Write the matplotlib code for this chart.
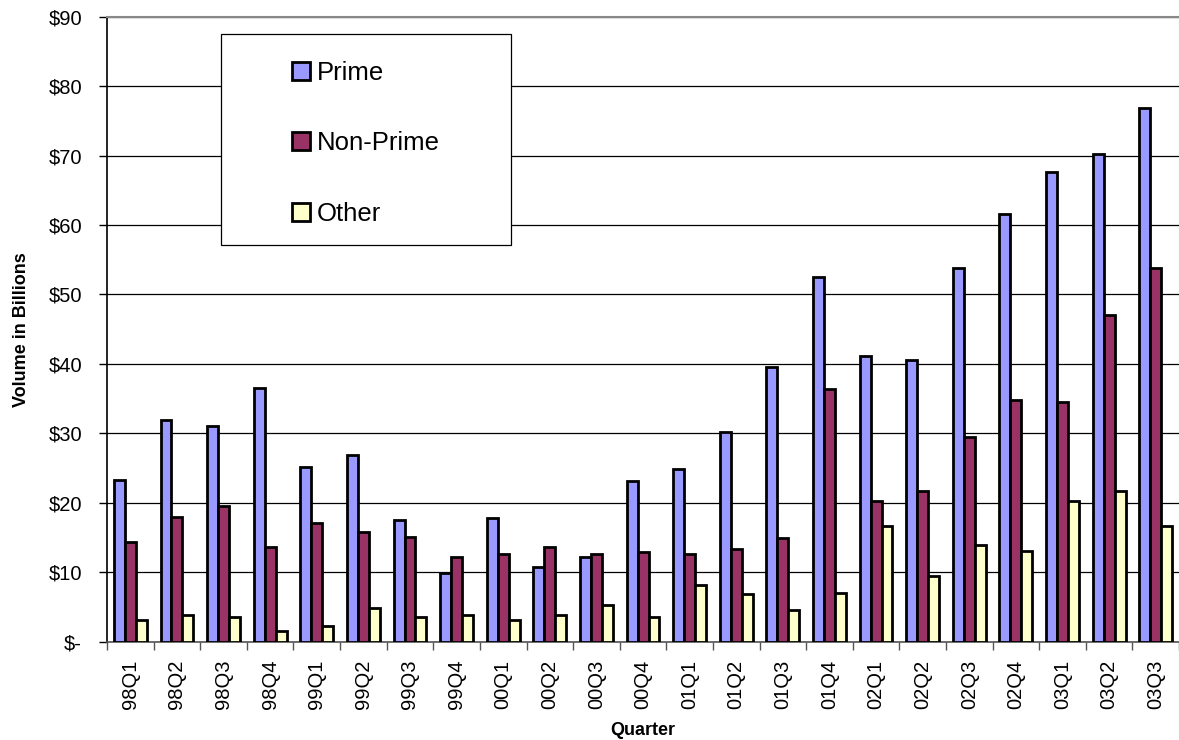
import matplotlib
matplotlib.use('Agg')
import matplotlib.pyplot as plt
import numpy as np
from matplotlib.patches import Patch, Rectangle
from matplotlib.ticker import FuncFormatter

# Quarterly origination volume, $ billions
quarters = ["98Q1", "98Q2", "98Q3", "98Q4", "99Q1", "99Q2", "99Q3", "99Q4",
            "00Q1", "00Q2", "00Q3", "00Q4", "01Q1", "01Q2", "01Q3", "01Q4",
            "02Q1", "02Q2", "02Q3", "02Q4", "03Q1", "03Q2", "03Q3"]
prime = [23.3, 31.9, 31.1, 36.6, 25.2, 26.9, 17.5, 9.9,
         17.8, 10.7, 12.2, 23.1, 24.9, 30.2, 39.5, 52.5,
         41.2, 40.5, 53.8, 61.6, 67.7, 70.2, 76.8]
non_prime = [14.3, 17.9, 19.6, 13.6, 17.1, 15.8, 15.1, 12.2,
             12.7, 13.7, 12.7, 12.9, 12.7, 13.4, 14.9, 36.4,
             20.2, 21.7, 29.5, 34.8, 34.5, 47.1, 53.8]
other = [3.1, 3.8, 3.6, 1.5, 2.3, 4.8, 3.6, 3.8,
         3.1, 3.9, 5.3, 3.5, 8.1, 6.9, 4.5, 7.0,
         16.7, 9.5, 13.9, 13.0, 20.3, 21.7, 16.6]

series = [("Prime", prime, "#9999FF"),
          ("Non-Prime", non_prime, "#993366"),
          ("Other", other, "#FFFFCC")]

plt.rcParams['font.family'] = ['Liberation Sans', 'DejaVu Sans']

fig = plt.figure(figsize=(11.79, 7.40), dpi=100)
ax = fig.add_axes([0.0908, 0.1328, 0.9092, 0.8447])

x = np.arange(len(quarters))
w = 0.235
for i, (name, vals, col) in enumerate(series):
    ax.bar(x + (i - 1) * w, vals, width=w, color=col, edgecolor="black",
           linewidth=2.0, label=name, zorder=3)

ax.set_xlim(-0.5, len(quarters) - 0.5)
ax.set_ylim(0, 90)
ax.set_yticks(np.arange(0, 91, 10))
ax.yaxis.set_major_formatter(FuncFormatter(lambda v, p: "$-" if v == 0 else f"${v:.0f}"))
ax.yaxis.grid(True, color="black", linewidth=0.9, zorder=0)

# tick marks sit between groups, labels centred under each group
ax.set_xticks(np.arange(len(quarters) + 1) - 0.5)
ax.set_xticklabels([])
ax.set_xticks(x, minor=True)
ax.set_xticklabels(quarters, minor=True, rotation=90, fontsize=14.5)
ax.tick_params(axis="x", which="major", length=6, width=1, color="#555555")
ax.tick_params(axis="x", which="minor", length=0, pad=13)
ax.tick_params(axis="y", length=6, width=1, labelsize=14.5, pad=12)

ax.spines["right"].set_visible(False)
ax.spines["top"].set_color("#888888")
ax.spines["top"].set_linewidth(1.5)
ax.spines["left"].set_linewidth(1.2)
ax.spines["bottom"].set_color("#555555")
ax.spines["bottom"].set_linewidth(1.2)

ax.set_xlabel("Quarter", fontsize=13, fontweight="bold", labelpad=9)
ax.set_ylabel("Volume in Billions", fontsize=13, fontweight="bold", labelpad=13)

# legend box
ax.add_patch(Rectangle((0.106, 0.634), 0.2705, 0.338, transform=ax.transAxes,
                       facecolor="white", edgecolor="black", linewidth=0.9, zorder=4))
handles = [Patch(facecolor=c, edgecolor="black", linewidth=2.0) for _, _, c in series]
leg = ax.legend(handles, [n for n, _, _ in series], loc="upper left",
                bbox_to_anchor=(0.168, 0.937), frameon=False, fontsize=18.5,
                handlelength=0.7, handleheight=0.7, handletextpad=0.25,
                labelspacing=1.8, borderpad=0.2, borderaxespad=0)
leg.set_zorder(5)

fig.savefig("out.png", dpi=100)
